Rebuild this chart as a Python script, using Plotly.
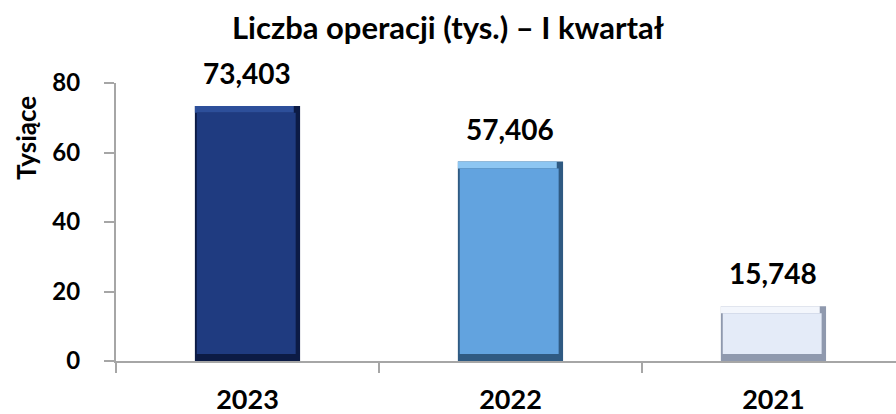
import plotly.graph_objects as go

categories = ["2023", "2022", "2021"]
values = [73.403, 57.406, 15.748]
value_labels = ["73,403", "57,406", "15,748"]
face_colors = ["#1F3B80", "#62A3DF", "#E4EBF8"]
edge_colors = ["#0C1B45", "#2F5A82", "#8F99AE"]
top_colors = ["#2D4F9A", "#8DC6F2", "#F3F6FC"]
y_ticks = [0, 20, 40, 60, 80]

FONT = "Lato"
bar_w = 0.4
bev_x = 0.024   # bevel width in category units
bev_y = 2.0     # bevel height in value units
idx = list(range(len(categories)))

fig = go.Figure()
# outer (edge shading)
fig.add_trace(go.Bar(x=idx, y=values, width=bar_w,
                     marker=dict(color=edge_colors, line=dict(width=0)),
                     hoverinfo="skip", showlegend=False))
# top highlight
fig.add_trace(go.Bar(x=idx, y=[bev_y] * 3, base=[v - bev_y for v in values],
                     width=bar_w - bev_x, offset=-bar_w / 2,
                     marker=dict(color=top_colors, line=dict(width=0)),
                     hoverinfo="skip", showlegend=False))
# inner face
fig.add_trace(go.Bar(x=idx, y=[v - 2 * bev_y for v in values], base=[bev_y] * 3,
                     width=bar_w - bev_x, offset=-bar_w / 2 + bev_x * 0.3,
                     marker=dict(color=face_colors, line=dict(width=0)),
                     customdata=categories,
                     hovertemplate="%{customdata}: %{y}<extra></extra>", showlegend=False))

for i, v, t in zip(idx, values, value_labels):
    fig.add_annotation(x=i, y=v, text=t, showarrow=False, yanchor="bottom",
                       yshift=14, font=dict(family=FONT, size=28, color="#000000", weight="bold"))

fig.add_annotation(xref="paper", yref="paper", x=-0.116, y=0.80, text="Tysiące",
                   textangle=-90, showarrow=False, xanchor="center", yanchor="middle",
                   font=dict(family=FONT, size=26, color="#000000", weight="bold"))

fig.update_layout(
    width=896, height=414,
    margin=dict(l=116, r=0, t=83, b=53),
    paper_bgcolor="white", plot_bgcolor="white",
    barmode="overlay",
    title=dict(text="Liczba operacji (tys.) – I kwartał", x=0.5, xanchor="center",
               y=1 - 28 / 414, yanchor="middle", yref="container",
               font=dict(family=FONT, size=31, color="#000000", weight="bold")),
    font=dict(family=FONT, color="#000000"),
)
fig.update_xaxes(type="linear", range=[-0.5, 2.466], tickvals=idx, ticktext=categories,
                 showline=True, linecolor="#A6A6A6", linewidth=2,
                 ticks="", showgrid=False, zeroline=False, automargin=False,
                 tickfont=dict(family=FONT, size=27, color="#000000", weight="bold"),
                 ticklabelstandoff=14)
# boundary tick marks between categories (minor ticks)
fig.update_xaxes(minor=dict(tickvals=[i - 0.5 for i in idx] + [idx[-1] + 0.5],
                            ticks="outside", ticklen=10, tickcolor="#A6A6A6", tickwidth=2))
fig.update_yaxes(range=[0, 80], tickvals=y_ticks, showline=True, linecolor="#A6A6A6",
                 linewidth=2, ticks="outside", ticklen=10, tickcolor="#A6A6A6", tickwidth=2,
                 showgrid=False, zeroline=False, automargin=False,
                 tickfont=dict(family=FONT, size=24, color="#000000", weight="bold"),
                 ticklabelstandoff=19)

fig.write_html("out.html", config={"displayModeBar": False},
               post_script="document.body.style.margin='0';document.body.style.overflow='hidden';")
